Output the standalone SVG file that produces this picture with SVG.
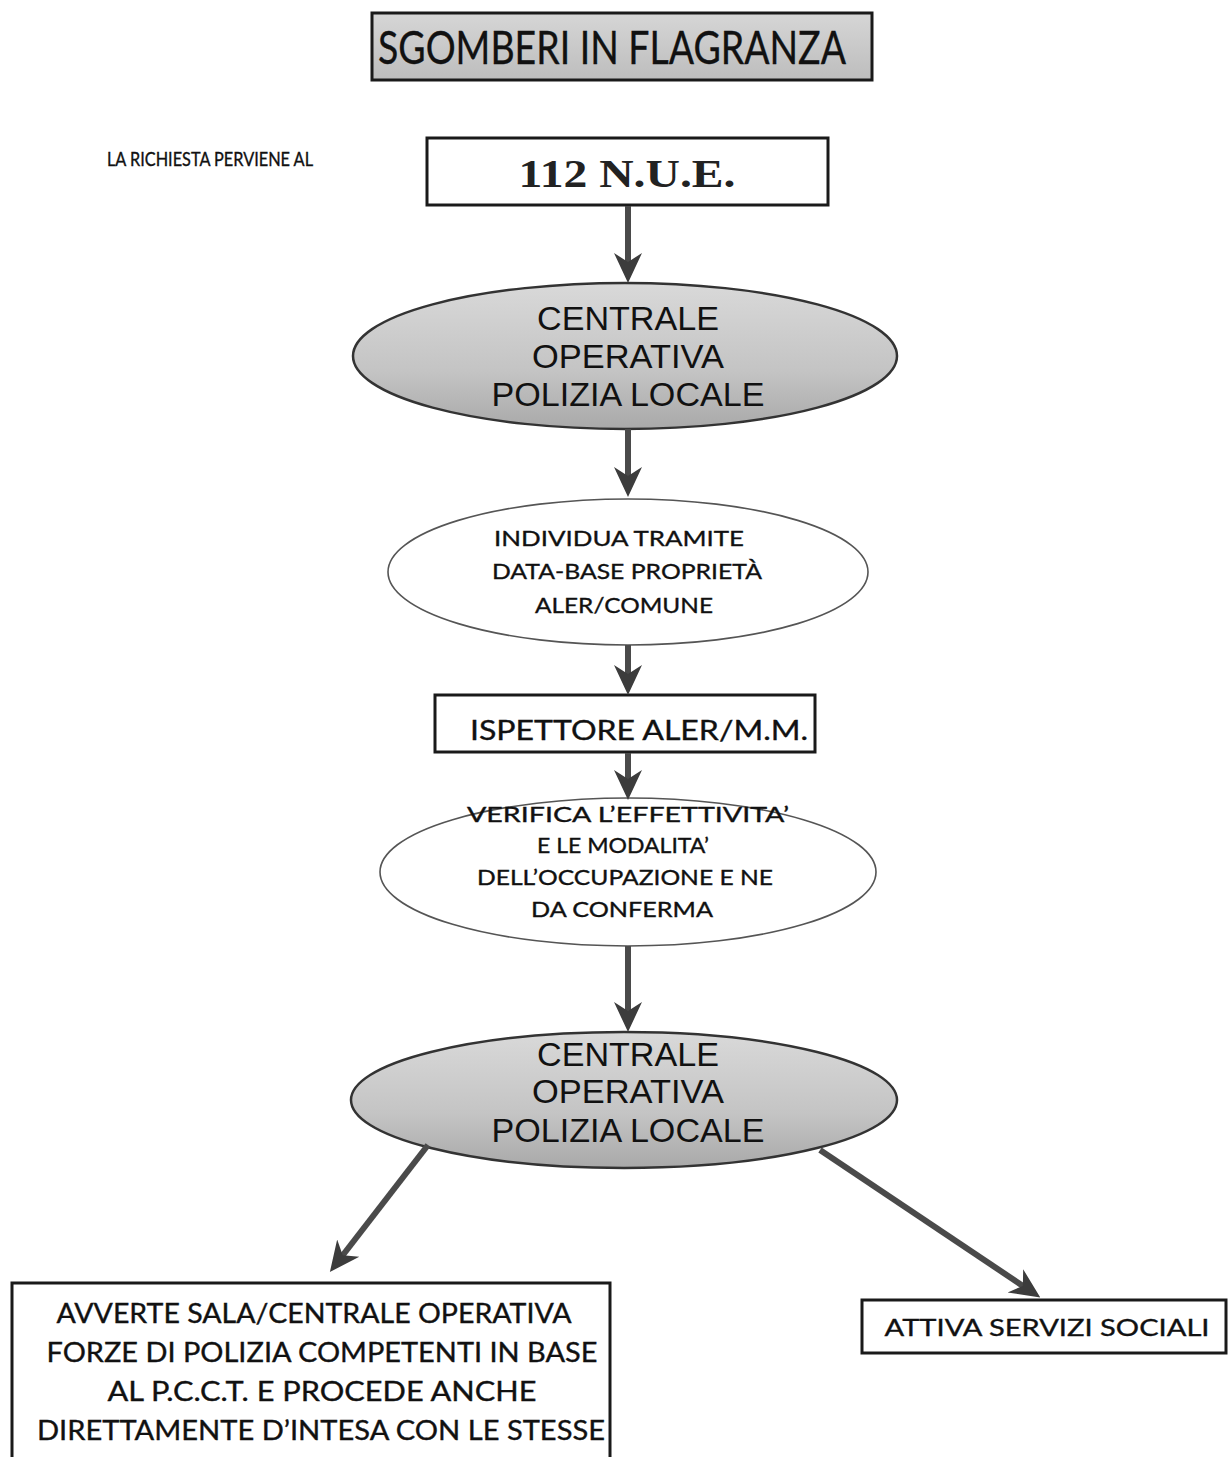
<svg xmlns="http://www.w3.org/2000/svg" width="1229" height="1457" viewBox="0 0 1229 1457">
<style>
.box{fill:#fff;stroke:#1a1a1a;stroke-width:3}
.gbox{fill:url(#gtitle);stroke:#1a1a1a;stroke-width:3}
.gell{fill:url(#gell);stroke:#333;stroke-width:2.5}
.well{fill:#fff;stroke:#555;stroke-width:1.6}
.cal{font-family:Lato,"Open Sans","Liberation Sans",sans-serif;fill:#111;text-anchor:middle;stroke:#111;stroke-width:0.35}
.ari{font-family:"Liberation Sans",Arial,sans-serif;fill:#111;text-anchor:middle}
.conn{stroke:#4a4a4a;stroke-width:6;fill:none}
</style>
<defs>
<linearGradient id="gtitle" x1="0" y1="0" x2="0" y2="1">
<stop offset="0" stop-color="#d6d6d6"/><stop offset="1" stop-color="#bdbdbd"/>
</linearGradient>
<linearGradient id="gell" x1="0" y1="0" x2="0" y2="1">
<stop offset="0" stop-color="#d9d9d9"/><stop offset="0.6" stop-color="#c4c4c4"/><stop offset="1" stop-color="#a9a9a9"/>
</linearGradient>
<marker id="ah" viewBox="0 0 30 30" refX="20" refY="15" markerWidth="30" markerHeight="30" markerUnits="userSpaceOnUse" orient="auto">
<path d="M0,1 L30,15 L0,29 L9,15 z" fill="#3c3c3c"/>
</marker>
</defs>
<rect width="1229" height="1457" fill="#fff"/>

<g id="title">
<rect class="gbox" x="372" y="13" width="500" height="67"/>
<text class="cal" x="612" y="64" font-size="46" textLength="468" lengthAdjust="spacingAndGlyphs">SGOMBERI IN FLAGRANZA</text>
</g>

<g id="label-richiesta">
<text class="cal" x="210" y="166" font-size="19" textLength="206" lengthAdjust="spacingAndGlyphs">LA RICHIESTA PERVIENE AL</text>
</g>

<g id="n112">
<rect class="box" x="427" y="138" width="401" height="67"/>
<text x="627" y="187" font-family="'Liberation Serif','DejaVu Serif',serif" font-weight="bold" font-size="40" fill="#222" text-anchor="middle" textLength="217" lengthAdjust="spacingAndGlyphs">112 N.U.E.</text>
</g>

<g id="centrale1">
<ellipse class="gell" cx="625" cy="356" rx="272" ry="73"/>
<text class="ari" x="628" y="330" font-size="34" textLength="182" lengthAdjust="spacingAndGlyphs">CENTRALE</text>
<text class="ari" x="628" y="368" font-size="34" textLength="192" lengthAdjust="spacingAndGlyphs">OPERATIVA</text>
<text class="ari" x="628" y="406" font-size="34" textLength="273" lengthAdjust="spacingAndGlyphs">POLIZIA LOCALE</text>
</g>

<g id="individua">
<ellipse class="well" cx="628" cy="572" rx="240" ry="73"/>
<text class="cal" x="619" y="546" font-size="22" textLength="250" lengthAdjust="spacingAndGlyphs">INDIVIDUA TRAMITE</text>
<text class="cal" x="627" y="579" font-size="22" textLength="270" lengthAdjust="spacingAndGlyphs">DATA-BASE PROPRIETÀ</text>
<text class="cal" x="624" y="613" font-size="22" textLength="178" lengthAdjust="spacingAndGlyphs">ALER/COMUNE</text>
</g>

<g id="ispettore">
<rect class="box" x="435" y="695" width="380" height="57"/>
<text class="cal" x="639" y="740" font-size="27" textLength="338" lengthAdjust="spacingAndGlyphs">ISPETTORE ALER/M.M.</text>
</g>

<g id="verifica">
<ellipse class="well" cx="628" cy="872" rx="248" ry="74"/>
<text class="cal" x="628" y="822" font-size="21" textLength="322" lengthAdjust="spacingAndGlyphs">VERIFICA L’EFFETTIVITA’</text>
<text class="cal" x="623" y="853" font-size="21" textLength="172" lengthAdjust="spacingAndGlyphs">E LE MODALITA’</text>
<text class="cal" x="625" y="885" font-size="21" textLength="296" lengthAdjust="spacingAndGlyphs">DELL’OCCUPAZIONE E NE</text>
<text class="cal" x="622" y="917" font-size="21" textLength="182" lengthAdjust="spacingAndGlyphs">DA CONFERMA</text>
</g>

<g id="centrale2">
<ellipse class="gell" cx="624" cy="1100" rx="273" ry="68"/>
<text class="ari" x="628" y="1066" font-size="34" textLength="182" lengthAdjust="spacingAndGlyphs">CENTRALE</text>
<text class="ari" x="628" y="1103" font-size="34" textLength="192" lengthAdjust="spacingAndGlyphs">OPERATIVA</text>
<text class="ari" x="628" y="1142" font-size="34" textLength="273" lengthAdjust="spacingAndGlyphs">POLIZIA LOCALE</text>
</g>

<g id="avverte">
<rect class="box" x="12" y="1283" width="598" height="180"/>
<text class="cal" x="314" y="1323" font-size="27" textLength="515" lengthAdjust="spacingAndGlyphs">AVVERTE SALA/CENTRALE OPERATIVA</text>
<text class="cal" x="322" y="1362" font-size="27" textLength="551" lengthAdjust="spacingAndGlyphs">FORZE DI POLIZIA COMPETENTI IN BASE</text>
<text class="cal" x="322" y="1401" font-size="27" textLength="429" lengthAdjust="spacingAndGlyphs">AL P.C.C.T. E PROCEDE ANCHE</text>
<text class="cal" x="321" y="1440" font-size="27" textLength="568" lengthAdjust="spacingAndGlyphs">DIRETTAMENTE D’INTESA CON LE STESSE</text>
</g>

<g id="servizi">
<rect class="box" x="862" y="1300" width="364" height="53"/>
<text class="cal" x="1047" y="1336" font-size="24" textLength="325" lengthAdjust="spacingAndGlyphs">ATTIVA SERVIZI SOCIALI</text>
</g>

<g id="connectors">
<line class="conn" x1="628" y1="206" x2="628" y2="273" marker-end="url(#ah)"/>
<line class="conn" x1="628" y1="429" x2="628" y2="487" marker-end="url(#ah)"/>
<line class="conn" x1="628" y1="645" x2="628" y2="685" marker-end="url(#ah)"/>
<line class="conn" x1="628" y1="753" x2="628" y2="790" marker-end="url(#ah)"/>
<line class="conn" x1="628" y1="946" x2="628" y2="1022" marker-end="url(#ah)"/>
<line class="conn" x1="428" y1="1145" x2="336" y2="1264" marker-end="url(#ah)"/>
<line class="conn" x1="820" y1="1150" x2="1032" y2="1292" marker-end="url(#ah)"/>
</g>
</svg>
